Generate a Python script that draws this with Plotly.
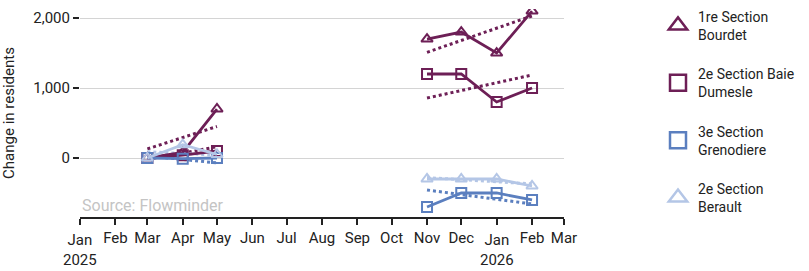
import plotly.graph_objects as go

# ---- data ----
months = ["2025-03-01", "2025-04-01", "2025-05-01", "2025-06-01", "2025-07-01",
          "2025-08-01", "2025-09-01", "2025-10-01", "2025-11-01", "2025-12-01",
          "2026-01-01", "2026-02-01"]
bourdet = [0, 80, 700, None, None, None, None, None, 1700, 1800, 1500, 2100]
baie_dumesle = [0, 40, 100, None, None, None, None, None, 1200, 1200, 800, 1000]
grenodiere = [0, -10, 0, None, None, None, None, None, -700, -500, -500, -600]
berault = [0, 190, 50, None, None, None, None, None, -300, -300, -300, -400]

trend_x = ["2025-03-01", "2025-05-01", None, "2025-11-01", "2026-02-01"]
bourdet_trend = [130, 450, None, 1510, 2030]
baie_dumesle_trend = [-20, 160, None, 857, 1186]
grenodiere_trend = [30, -70, None, -457, -657]
berault_trend = [90, 40, None, -280, -370]

names = ["1re Section<br>Bourdet", "2e Section Baie<br>Dumesle",
         "3e Section<br>Grenodiere", "2e Section<br>Berault"]
tick_vals = ["2025-01-01", "2025-02-01", "2025-03-01", "2025-04-01", "2025-05-01",
             "2025-06-01", "2025-07-01", "2025-08-01", "2025-09-01", "2025-10-01",
             "2025-11-01", "2025-12-01", "2026-01-01", "2026-02-01", "2026-03-01"]
tick_text = ["Jan<br>2025", "Feb", "Mar", "Apr", "May", "Jun", "Jul", "Aug", "Sep",
             "Oct", "Nov", "Dec", "Jan<br>2026", "Feb", "Mar"]

# ---- styles ----
colors = ["#6d1f56", "#6d1f56", "#5b7fbf", "#b4c6e6"]
symbols = ["triangle-up-open", "square-open", "square-open", "triangle-up-open"]
series = [bourdet, baie_dumesle, grenodiere, berault]
trends = [bourdet_trend, baie_dumesle_trend, grenodiere_trend, berault_trend]

fig = go.Figure()
for i in range(4):
    fig.add_trace(go.Scatter(
        x=trend_x, y=trends[i], mode="lines",
        line=dict(color=colors[i], width=3, dash="dot"),
        showlegend=False, hoverinfo="skip"))
for i in range(4):
    fig.add_trace(go.Scatter(
        x=months, y=series[i], mode="lines+markers", name=names[i],
        showlegend=False,
        line=dict(color=colors[i], width=2.8),
        marker=dict(symbol=symbols[i], size=10, color=colors[i],
                    line=dict(color=colors[i], width=2))))
# legend-only entries (markers only, as in the reference legend)
for i in range(4):
    fig.add_trace(go.Scatter(
        x=[None], y=[None], mode="markers", name=names[i],
        legendgroup=str(i), hoverinfo="skip",
        marker=dict(symbol=symbols[i], size=20, color=colors[i],
                    line=dict(color=colors[i], width=2.5))))

# multi-line tick labels drawn as centred annotations, single-line ones as ticks
plain_text = [t if "<br>" not in t else "" for t in tick_text]
annots = [dict(text="Source: Flowminder", xref="paper", yref="paper",
               x=0, y=0, xanchor="left", yanchor="bottom", showarrow=False,
               font=dict(size=16, color="#c4c4c4"))]
for v, t in zip(tick_vals, tick_text):
    if "<br>" in t:
        annots.append(dict(text=t, x=v, xref="x", yref="paper", y=0, yshift=-33,
                           xanchor="center", yanchor="middle", showarrow=False,
                           font=dict(size=15, color="#222")))

fig.update_layout(
    width=809, height=271,
    margin=dict(l=80, r=245, t=9, b=54),
    plot_bgcolor="white", paper_bgcolor="white",
    font=dict(family="Roboto", size=15, color="#222"),
    legend=dict(x=658 / 809, xref="container", y=1.04, xanchor="left", yanchor="top",
                maxheight=265, tracegroupgap=18, itemsizing="trace",
                font=dict(size=14)),
    annotations=annots,
)
fig.update_xaxes(
    type="date", range=["2025-01-01", "2026-03-01"],
    tickvals=tick_vals, ticktext=plain_text,
    showgrid=False, showline=True, linecolor="#222", linewidth=1.5,
    ticks="outside", ticklen=6, tickcolor="#222", tickwidth=1.5,
    tickfont=dict(size=15))
fig.update_yaxes(
    range=[-843, 2129], tickvals=[0, 1000, 2000], tickformat=",",
    showgrid=True, gridcolor="#d4d4d4", gridwidth=1, zeroline=False,
    showline=False, ticks="outside", ticklen=6, tickcolor="#222", tickwidth=1.5,
    automargin=False,
    title=dict(text="Change in residents", font=dict(size=15), standoff=16),
    tickfont=dict(size=15))

fig.write_html("out.html", config={"displayModeBar": False},
               post_script="document.body.style.margin='0';")
